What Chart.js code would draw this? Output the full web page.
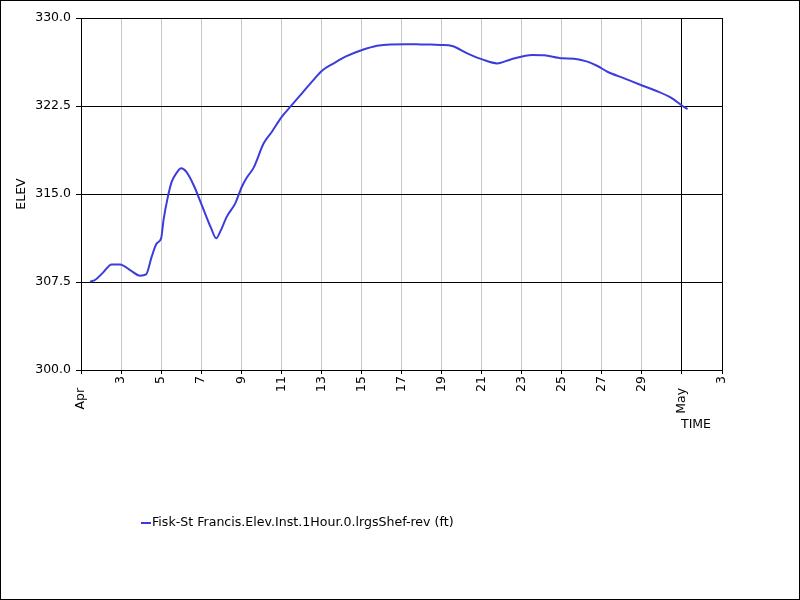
<!DOCTYPE html>
<html>
<head>
<meta charset="utf-8">
<script src="https://cdn.jsdelivr.net/npm/chart.js@4"></script>
<style>
  body { margin: 0; background: #fff; }
  #wrap { position: relative; width: 800px; height: 600px; font-family: "DejaVu Sans", sans-serif; }
  #xTitle { position: absolute; left: 681px; top: 416px; font-size: 12.5px; }
  #legend { position: absolute; left: 141px; top: 514px; font-size: 12.6px; white-space: nowrap; }
  #legend span.swatch { display: inline-block; width: 10px; height: 2px; background: #3c3cdc; vertical-align: middle; margin-right: 1px; }
</style>
</head>
<body>
<div id="wrap">
  <canvas id="grafica" width="800" height="600"></canvas>
  <div id="xTitle">TIME</div>
  <div id="legend"><span class="swatch"></span>Fisk-St Francis.Elev.Inst.1Hour.0.lrgsShef-rev (ft)</div>
</div>
<script>
// dia del mes (1 = 1 Apr, 31 = 1 May) y elevacion en pies
const dias = [1.45, 1.7, 2.1, 2.53, 2.95, 3.45, 3.95, 4.25, 4.53, 4.78, 5.0, 5.12, 5.32, 5.53,
  5.78, 6.0, 6.25, 6.62, 7.03, 7.5, 7.75, 7.95, 8.28, 8.7, 9.03, 9.28, 9.62, 10.12, 10.53,
  11.03, 11.53, 12.03, 12.53, 13.03, 13.62, 14.2, 15.03, 15.78, 16.45, 17.2, 17.95, 18.45,
  18.95, 19.53, 20.28, 21.03, 21.78, 22.45, 23.53, 24.12, 25.03, 25.62, 26.28, 26.78, 27.28,
  28.12, 28.95, 29.7, 30.45, 31.03, 31.28];
const elev = [307.52, 307.67, 308.3, 309.0, 309.0, 308.52, 308.04, 308.15, 309.66, 310.8, 311.22,
  312.78, 314.63, 316.05, 316.82, 317.19, 316.9, 315.77, 314.06, 312.07, 311.22, 311.79, 313.07,
  314.2, 315.62, 316.4, 317.25, 319.32, 320.31, 321.59, 322.59, 323.58, 324.57, 325.51, 326.14,
  326.7, 327.27, 327.64, 327.75, 327.76, 327.75, 327.74, 327.7, 327.61, 326.99, 326.47, 326.13,
  326.47, 326.85, 326.82, 326.56, 326.53, 326.28, 325.91, 325.42, 324.86, 324.29, 323.8, 323.21,
  322.5, 322.24];

// marcas del eje x: dias impares, con el mes en el primer dia
const marcasX = [1, 3, 5, 7, 9, 11, 13, 15, 17, 19, 21, 23, 25, 27, 29, 31, 33];
const etiquetasX = ['Apr   ', '3', '5', '7', '9', '11', '13', '15', '17', '19', '21', '23', '25',
  '27', '29', 'May   ', '3'];
const marcasY = [300, 307.5, 315, 322.5, 330];

const serie = 'Fisk-St Francis.Elev.Inst.1Hour.0.lrgsShef-rev (ft)';
const fuente = { family: 'DejaVu Sans', size: 12.5 };

const marco = {
  id: 'marco',
  afterDraw(chart) {
    const c = chart.ctx;
    const a = chart.chartArea;
    c.save();
    c.strokeStyle = '#000';
    c.lineWidth = 1;
    c.strokeRect(Math.round(a.left) + 0.5, Math.round(a.top) + 0.5,
      Math.round(a.right - a.left), Math.round(a.bottom - a.top));
    c.strokeRect(0.5, 0.5, chart.width - 1, chart.height - 1);
    c.restore();
  }
};

const ctx = document.getElementById('grafica').getContext('2d');
new Chart(ctx, {
  type: 'line',
  data: {
    datasets: [{
      label: serie,
      data: dias.map((d, i) => ({ x: d, y: elev[i] })),
      borderColor: '#3c3cdc',
      borderWidth: 2,
      pointRadius: 0,
      tension: 0.4,
      cubicInterpolationMode: 'monotone',
      fill: false
    }]
  },
  options: {
    responsive: false,
    devicePixelRatio: 1,
    animation: false,
    layout: { padding: { top: 18, right: 78, left: 0, bottom: 0 } },
    plugins: { legend: { display: false }, tooltip: { enabled: false } },
    scales: {
      x: {
        type: 'linear',
        min: 1,
        max: 33,
        afterBuildTicks: s => { s.ticks = marcasX.map(v => ({ value: v })); },
        afterFit: s => { s.height = 230; },
        ticks: {
          autoSkip: false,
          minRotation: 90,
          maxRotation: 90,
          padding: 2,
          color: '#000',
          font: fuente,
          callback: v => etiquetasX[marcasX.indexOf(v)]
        },
        grid: {
          color: c => (c.tick && c.tick.value === 31) ? '#000' : '#c8c8c8',
          tickColor: '#000',
          tickLength: 4
        },
        border: { color: '#000' }
      },
      y: {
        min: 300,
        max: 330,
        afterBuildTicks: s => { s.ticks = marcasY.map(v => ({ value: v })); },
        afterFit: s => { s.width = 81; },
        ticks: {
          padding: 5,
          color: '#000',
          font: fuente,
          callback: v => v.toFixed(1)
        },
        grid: { color: '#000', tickColor: '#000', tickLength: 5 },
        border: { color: '#000' },
        title: { display: true, text: 'ELEV', color: '#000', font: fuente, padding: { top: 14, bottom: 0 } }
      }
    }
  },
  plugins: [marco]
});
</script>
</body>
</html>
